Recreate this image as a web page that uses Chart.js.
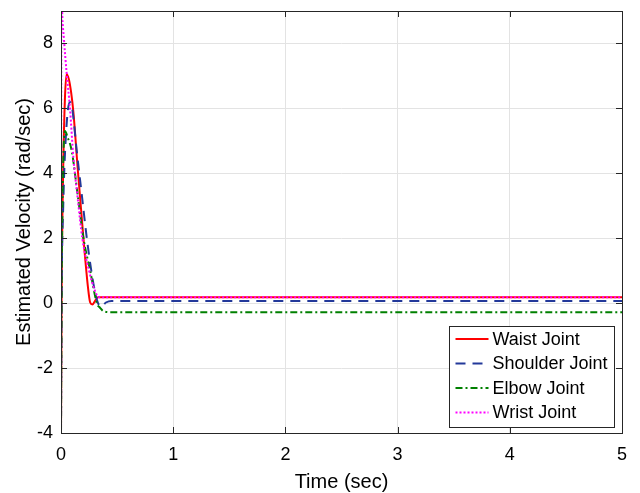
<!DOCTYPE html>
<html>
<head>
<meta charset="utf-8">
<script src="https://cdn.jsdelivr.net/npm/chart.js@4/dist/chart.umd.min.js"></script>
<style>
  html, body { margin: 0; padding: 0; background: #fff; }
  #wrap { width: 640px; height: 493px; }
</style>
</head>
<body>
<div id="wrap"><canvas id="chart1" width="640" height="493"></canvas></div>
<script>
// Données (temps en s, vitesse en rad/s)
const waistT    = [0, 0.005, 0.02, 0.035, 0.05, 0.07, 0.09, 0.11, 0.15, 0.2, 0.24, 0.26, 0.28, 0.3, 0.33, 0.5, 5];
const waistV    = [-4, 0, 4.2, 6.3, 7.05, 6.9, 6.5, 5.9, 4.1, 2.0, 0.5, 0.02, -0.04, 0.05, 0.18, 0.18, 0.18];

const shoulderT = [0, 0.005, 0.02, 0.05, 0.08, 0.1, 0.14, 0.19, 0.23, 0.27, 0.3, 0.33, 0.36, 0.4, 0.45, 5];
const shoulderV = [-4, 0, 3.0, 5.5, 6.2, 6.0, 4.7, 3.2, 2.0, 1.0, 0.4, 0.0, -0.1, 0.02, 0.07, 0.07];

const elbowT    = [0, 0.005, 0.015, 0.035, 0.06, 0.095, 0.15, 0.2, 0.26, 0.32, 0.35, 0.38, 0.45, 0.6, 5];
const elbowV    = [-4, 0, 3.5, 5.3, 5.1, 4.7, 3.3, 2.0, 1.0, 0.0, -0.15, -0.25, -0.28, -0.28, -0.28];

const wristT    = [0, 0.003, 0.01, 0.027, 0.05, 0.08, 0.11, 0.15, 0.19, 0.25, 0.3, 0.32, 0.35, 5];
const wristV    = [-4, 10, 9.0, 8.1, 7.1, 6.0, 4.5, 3.2, 2.0, 1.0, 0.4, 0.25, 0.18, 0.18];

const xTicks = [0, 1, 2, 3, 4, 5];
const yTicks = [-4, -2, 0, 2, 4, 6, 8];
const labels = ['Waist Joint', 'Shoulder Joint', 'Elbow Joint', 'Wrist Joint'];

const FONT = '"Liberation Sans", Arial, sans-serif';

function pts(t, v) {
    return t.map((x, i) => ({ x: x, y: v[i] }));
}

// Cadre, graduations intérieures et légende façon MATLAB
const matlabFrame = {
    id: 'matlabFrame',
    afterDraw(chart) {
        const ctx = chart.ctx;
        const a = chart.chartArea;
        const xs = chart.scales.x, ys = chart.scales.y;
        ctx.save();
        ctx.strokeStyle = '#262626';
        ctx.lineWidth = 1;
        ctx.beginPath();
        xTicks.forEach(v => {
            const px = Math.round(xs.getPixelForValue(v)) + 0.5;
            ctx.moveTo(px, a.bottom); ctx.lineTo(px, a.bottom - 6);
            ctx.moveTo(px, a.top); ctx.lineTo(px, a.top + 6);
        });
        yTicks.forEach(v => {
            const py = Math.round(ys.getPixelForValue(v)) + 0.5;
            ctx.moveTo(a.left, py); ctx.lineTo(a.left + 6, py);
            ctx.moveTo(a.right, py); ctx.lineTo(a.right - 6, py);
        });
        ctx.stroke();
        ctx.strokeRect(Math.round(a.left) + 0.5, Math.round(a.top) + 0.5,
                       Math.round(a.right - a.left), Math.round(a.bottom - a.top));

        // titre de l'axe y
        ctx.fillStyle = '#000';
        ctx.font = '20px ' + FONT;
        ctx.textAlign = 'center';
        ctx.textBaseline = 'middle';
        ctx.translate(24, 222);
        ctx.rotate(-Math.PI / 2);
        ctx.fillText('Estimated Velocity (rad/sec)', 0, 0);
        ctx.setTransform(1, 0, 0, 1, 0, 0);

        // légende
        const bx = 449.5, by = 326.5, bw = 165, bh = 101;
        ctx.fillStyle = '#fff';
        ctx.fillRect(bx, by, bw, bh);
        ctx.strokeStyle = '#262626';
        ctx.strokeRect(bx, by, bw, bh);
        ctx.font = '18px ' + FONT;
        ctx.textAlign = 'left';
        ctx.textBaseline = 'middle';
        chart.data.datasets.forEach((ds, i) => {
            const y = by + 12.5 + i * 24.5;
            ctx.strokeStyle = ds.borderColor;
            ctx.lineWidth = ds.borderWidth;
            ctx.setLineDash(ds.borderDash || []);
            ctx.beginPath();
            ctx.moveTo(bx + 6, y); ctx.lineTo(bx + 39, y);
            ctx.stroke();
            ctx.setLineDash([]);
            ctx.fillStyle = '#000';
            ctx.fillText(ds.label, bx + 43, y + 1);
        });
        ctx.restore();
    }
};

window.onload = function() {
    const ctx1 = document.getElementById('chart1');
    new Chart(ctx1, {
        type: 'line',
        data: {
            datasets: [
                { label: labels[0], data: pts(waistT, waistV), borderColor: '#ff0000', borderWidth: 2, order: 3 },
                { label: labels[1], data: pts(shoulderT, shoulderV), borderColor: '#23399a', borderWidth: 2, borderDash: [10, 7], order: 2 },
                { label: labels[2], data: pts(elbowT, elbowV), borderColor: '#008000', borderWidth: 2, borderDash: [7, 3, 2, 3], order: 1 },
                { label: labels[3], data: pts(wristT, wristV), borderColor: '#ff00ff', borderWidth: 2, borderDash: [2, 2], order: 0 }
            ]
        },
        options: {
            responsive: false,
            animation: false,
            devicePixelRatio: 1,
            layout: { padding: { top: 11, right: 18, left: 0, bottom: 0 } },
            elements: {
                point: { radius: 0 },
                line: { cubicInterpolationMode: 'monotone', fill: false }
            },
            plugins: {
                legend: { display: false },
                tooltip: { enabled: false }
            },
            scales: {
                x: {
                    type: 'linear',
                    min: 0, max: 5,
                    afterBuildTicks: s => { s.ticks = xTicks.map(v => ({ value: v })); },
                    afterFit: s => { s.height = 60; s.paddingLeft = 0; s.paddingRight = 0; },
                    grid: { color: '#e3e3e3', drawTicks: false },
                    border: { display: false },
                    ticks: { color: '#000', padding: 11, font: { family: FONT, size: 18 } },
                    title: { display: true, text: 'Time (sec)', color: '#000', padding: { top: 0, bottom: -1 },
                             font: { family: FONT, size: 20 } }
                },
                y: {
                    min: -4, max: 9,
                    afterBuildTicks: s => { s.ticks = yTicks.map(v => ({ value: v })); },
                    afterFit: s => { s.width = 61; s.paddingTop = 0; s.paddingBottom = 0; },
                    grid: { color: '#e3e3e3', drawTicks: false },
                    border: { display: false },
                    ticks: { color: '#000', padding: 8, font: { family: FONT, size: 18 } }
                }
            }
        },
        plugins: [matlabFrame]
    });
};
</script>
</body>
</html>
